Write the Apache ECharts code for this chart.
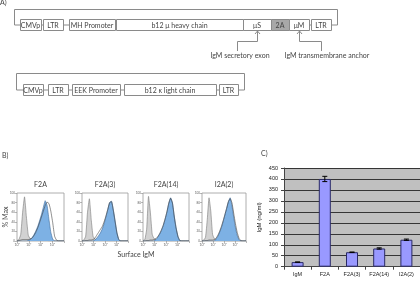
<!DOCTYPE html>
<html>
<head>
<meta charset="utf-8">
<script src="https://cdn.jsdelivr.net/npm/echarts@6/dist/echarts.min.js"></script>
<style>
  html, body { margin: 0; padding: 0; background: #fff; }
  #main { width: 420px; height: 282px; }
</style>
</head>
<body>
<div id="main"></div>
<script>
// ---- panel C: secreted IgM ----
const samples = ['IgM', 'F2A', 'F2A(3)', 'F2A(14)', 'I2A(2)'];
const igmLevels = [21, 400, 66, 83, 123];
const igmErrors = [0, 12, 1, 3, 3];

// ---- panel B: surface IgM histograms ----
const histTitles = ['F2A', 'F2A(3)', 'F2A(14)', 'I2A(2)'];
const decadeLabels = ['10⁰', '10¹', '10²', '10³', '10⁴'];
const fluor = [0, 4, 8, 12, 16, 20, 24, 28, 32, 36, 40, 44, 48, 52, 56, 60, 64, 68, 72, 76, 80, 84, 88, 92, 96, 100];
// isotype control (grey)
const isoF2A   = [1, 3, 14, 60, 92, 50, 12, 5, 4, 3, 3, 3, 2, 2, 1, 1, 1, 0, 0, 0, 0, 0, 0, 0, 0, 0];
const isoF2A3  = [1, 2, 10, 60, 88, 45, 10, 4, 3, 3, 2, 2, 1, 1, 0, 0, 0, 0, 0, 0, 0, 0, 0, 0, 0, 0];
const isoF2A14 = [1, 3, 25, 93, 60, 14, 5, 3, 3, 2, 2, 2, 1, 1, 0, 0, 0, 0, 0, 0, 0, 0, 0, 0, 0, 0];
const isoI2A2  = [1, 2, 8, 45, 90, 62, 14, 5, 3, 3, 2, 2, 1, 1, 0, 0, 0, 0, 0, 0, 0, 0, 0, 0, 0, 0];
// stained sample (blue fill)
const stF2A   = [0, 0, 0, 0, 0, 0, 1, 3, 7, 13, 21, 30, 42, 55, 70, 84, 74, 45, 18, 4, 0, 0, 0, 0, 0, 0];
const stF2A3  = [0, 0, 0, 0, 0, 0, 0, 2, 6, 11, 17, 25, 36, 50, 65, 80, 83, 66, 42, 18, 3, 0, 0, 0, 0, 0];
const stF2A14 = [0, 0, 0, 0, 0, 0, 0, 3, 8, 14, 22, 32, 45, 60, 78, 90, 80, 52, 28, 10, 1, 0, 0, 0, 0, 0];
const stI2A2  = [0, 0, 0, 0, 0, 0, 0, 0, 4, 10, 18, 28, 40, 54, 68, 82, 90, 74, 50, 28, 12, 3, 0, 0, 0, 0];
// comparison overlay (open line)
const ovF2A   = [0, 1, 2, 3, 3, 3, 3, 4, 6, 11, 18, 27, 38, 50, 62, 74, 81, 78, 62, 38, 10, 2, 0, 0, 0, 0];
const ovF2A3  = [0, 0, 1, 1, 2, 2, 3, 6, 12, 18, 24, 30, 40, 52, 66, 80, 82, 64, 40, 16, 3, 0, 0, 0, 0, 0];
const ovF2A14 = [0, 0, 1, 1, 2, 2, 3, 5, 9, 15, 23, 33, 46, 61, 79, 89, 79, 50, 26, 9, 1, 0, 0, 0, 0, 0];
const ovI2A2  = [0, 0, 1, 1, 2, 2, 2, 3, 6, 12, 20, 30, 42, 55, 68, 82, 88, 80, 58, 36, 18, 6, 1, 0, 0, 0];

const isoList = [isoF2A, isoF2A3, isoF2A14, isoI2A2];
const stList = [stF2A, stF2A3, stF2A14, stI2A2];
const ovList = [ovF2A, ovF2A3, ovF2A14, ovI2A2];

// ---- panel A: construct labels ----
const heavyParts = ['CMVp', 'LTR', 'MH Promoter', 'b12 μ heavy chain', 'μS', '2A', 'μM', 'LTR'];
const lightParts = ['CMVp', 'LTR', 'EEK Promoter', 'b12 κ light chain', 'LTR'];

const FONT = 'Lato, "Open Sans", sans-serif';
const ARIAL = '"Liberation Sans", Arial, sans-serif';

const chart = echarts.init(document.getElementById('main'), null, { renderer: 'canvas' });

// layout of the schematic
const heavyBoxes = [[20, 41], [43, 63], [69, 115], [116, 243], [243, 271], [271, 289], [289, 309], [311, 331]];
const lightBoxes = [[23, 43], [48, 68], [72, 120], [124, 216], [219, 238]];

const graphics = [];
const txt = (text, x, y, opts = {}) => {
  graphics.push({
    type: 'text',
    x: x, y: y,
    rotation: opts.rotation || 0,
    style: {
      text: text,
      fill: opts.fill || '#444',
      font: (opts.size || 7) + 'px ' + (opts.family || FONT),
      textAlign: opts.align || 'center',
      textVerticalAlign: 'middle',
      align: opts.align || 'center',
      verticalAlign: 'middle',
    },
    z: 10,
  });
};
const line = (pts) => {
  graphics.push({
    type: 'polyline',
    shape: { points: pts },
    style: { stroke: '#8a8a8a', lineWidth: 1, fill: null },
    z: 5,
  });
};
const construct = (parts, boxes, top, h, bracketL, bracketR, bracketTop) => {
  const mid = top + h / 2;
  parts.forEach((p, i) => {
    const [x0, x1] = boxes[i];
    graphics.push({
      type: 'rect',
      shape: { x: x0 + 0.5, y: top + 0.5, width: x1 - x0, height: h },
      style: { fill: p === '2A' ? '#a8a8a8' : '#fff', stroke: '#8a8a8a', lineWidth: 1 },
      z: 6,
    });
    txt(p, (x0 + x1) / 2, mid + 1);
    if (i > 0) line([[boxes[i - 1][1], mid + 0.5], [x0, mid + 0.5]]);
  });
  const last = boxes[boxes.length - 1][1];
  line([[boxes[0][0], mid + 0.5], [bracketL + 0.5, mid + 0.5], [bracketL + 0.5, bracketTop + 0.5],
        [bracketR + 0.5, bracketTop + 0.5], [bracketR + 0.5, mid + 0.5], [last, mid + 0.5]]);
};
construct(heavyParts, heavyBoxes, 19, 11, 14, 337, 9);
construct(lightParts, lightBoxes, 84, 11, 16, 244, 73);

// arrows to the two IgM exons
const arrow = (ax, bx, label, lx) => {
  line([[bx + 0.5, 51], [bx + 0.5, 41.5], [ax + 0.5, 41.5], [ax + 0.5, 31]]);
  line([[ax - 2, 34], [ax + 0.5, 31], [ax + 3, 34]]);
  txt(label, lx, 56);
};
arrow(257, 237, 'IgM secretory exon', 240);
arrow(299, 321, 'IgM transmembrane anchor', 327);

// panel letters and titles
txt('A)', 0, 3, { align: 'left' });
txt('B)', 2, 156, { align: 'left' });
txt('C)', 261, 154, { align: 'left' });
txt('% Max', 6, 217, { rotation: Math.PI / 2, size: 7 });
txt('Surface IgM', 136, 255, { size: 7 });

const histGrids = [
  { left: 17, width: 47 },
  { left: 82, width: 46 },
  { left: 143, width: 46 },
  { left: 202, width: 44 },
];
histGrids.forEach((g, i) => txt(histTitles[i], g.left + g.width / 2, 185, { size: 7 }));

const grids = [
  {
    left: 284, top: 168, width: 137, height: 98.7,
    show: true, backgroundColor: '#c0c0c0', borderWidth: 0,
  },
];
const xAxes = [
  {
    type: 'category', gridIndex: 0, data: samples,
    axisLine: { lineStyle: { color: '#444', width: 1 } },
    axisTick: { show: true, length: 3, lineStyle: { color: '#444' } },
    axisLabel: { fontSize: 5.5, color: '#222', margin: 5, fontFamily: ARIAL },
  },
];
const yAxes = [
  {
    type: 'value', gridIndex: 0, min: 0, max: 450, interval: 50,
    name: 'IgM (ng/ml)', nameLocation: 'middle', nameGap: 22,
    nameTextStyle: { fontSize: 6, color: '#222', fontFamily: ARIAL },
    axisLine: { show: true, lineStyle: { color: '#444', width: 1 } },
    axisTick: { show: true, length: 3, lineStyle: { color: '#444' } },
    axisLabel: { fontSize: 5.5, color: '#222', margin: 6, fontFamily: ARIAL },
    splitLine: { lineStyle: { color: '#111', width: 0.8 } },
  },
];
const series = [
  {
    type: 'bar', xAxisIndex: 0, yAxisIndex: 0,
    data: igmLevels, barWidth: 12,
    itemStyle: { color: '#9999ff', borderColor: '#2a2a66', borderWidth: 1 },
    z: 3,
  },
  {
    type: 'custom', xAxisIndex: 0, yAxisIndex: 0,
    data: igmLevels.map((v, i) => [i, v - igmErrors[i], v + igmErrors[i]]),
    renderItem: (params, api) => {
      const lo = api.coord([api.value(0), api.value(1)]);
      const hi = api.coord([api.value(0), api.value(2)]);
      const c = { stroke: '#000', lineWidth: 1 };
      return {
        type: 'group',
        children: [
          { type: 'line', shape: { x1: lo[0], y1: lo[1], x2: hi[0], y2: hi[1] }, style: c },
          { type: 'line', shape: { x1: lo[0] - 2.5, y1: lo[1], x2: lo[0] + 2.5, y2: lo[1] }, style: c },
          { type: 'line', shape: { x1: hi[0] - 2.5, y1: hi[1], x2: hi[0] + 2.5, y2: hi[1] }, style: c },
        ],
      };
    },
    z: 5,
  },
];

histGrids.forEach((g, k) => {
  const gi = k + 1;
  grids.push({
    left: g.left, width: g.width, top: 193, height: 48,
    show: true, borderColor: '#9a9a9a', borderWidth: 0.8, backgroundColor: '#fff',
  });
  xAxes.push({
    type: 'value', gridIndex: gi, min: 0, max: 100, interval: 25,
    axisLine: { show: false },
    axisTick: { show: true, length: 2, lineStyle: { color: '#888', width: 0.6 } },
    axisLabel: {
      fontSize: 3.5, color: '#666', margin: 2,
      formatter: (v) => (v < 100 ? decadeLabels[v / 25] : ''),
    },
    splitLine: { show: false },
  });
  yAxes.push({
    type: 'value', gridIndex: gi, min: 0, max: 100, interval: 20,
    axisLine: { show: false },
    axisTick: { show: true, length: 2, lineStyle: { color: '#888', width: 0.6 } },
    axisLabel: { fontSize: 3, color: '#666', margin: 2 },
    splitLine: { show: false },
  });
  const pts = (arr) => fluor.map((x, i) => [x, arr[i]]);
  series.push({
    type: 'line', xAxisIndex: gi, yAxisIndex: gi, data: pts(isoList[k]),
    smooth: 0.15, symbol: 'none',
    lineStyle: { color: '#7a7a7a', width: 0.6 },
    areaStyle: { color: '#d2d2d2', opacity: 1 },
    z: 2,
  });
  series.push({
    type: 'line', xAxisIndex: gi, yAxisIndex: gi, data: pts(stList[k]),
    smooth: 0.15, symbol: 'none',
    lineStyle: { color: '#3d6a9a', width: 0.6 },
    areaStyle: { color: '#7db1e4', opacity: 1 },
    z: 3,
  });
  series.push({
    type: 'line', xAxisIndex: gi, yAxisIndex: gi, data: pts(ovList[k]),
    smooth: 0.15, symbol: 'none',
    lineStyle: { color: '#444', width: 0.6 },
    z: 4,
  });
});

chart.setOption({
  animation: false,
  backgroundColor: '#fff',
  textStyle: { fontFamily: FONT },
  grid: grids,
  xAxis: xAxes,
  yAxis: yAxes,
  series: series,
  graphic: graphics,
});
</script>
</body>
</html>
